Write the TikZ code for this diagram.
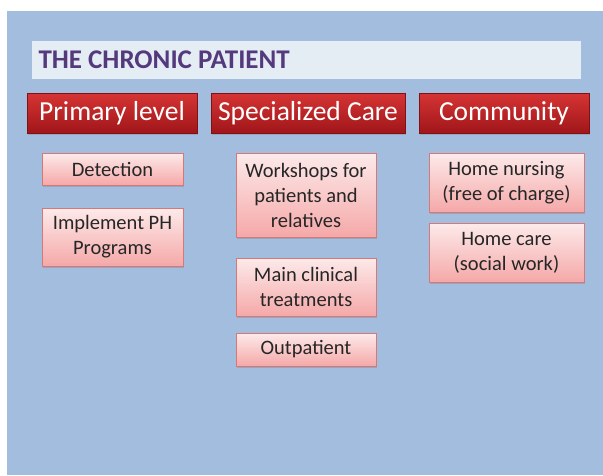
\documentclass[tikz,border=0pt]{standalone}
\usepackage{fontspec}
\setmainfont{Carlito}
\usetikzlibrary{shadows}
\definecolor{slide}{RGB}{163,189,222}
\definecolor{titlebg}{RGB}{228,236,244}
\definecolor{titletext}{RGB}{84,58,125}
\definecolor{headtop}{RGB}{214,52,52}
\definecolor{headbot}{RGB}{160,22,26}
\definecolor{itemtop}{RGB}{253,234,234}
\definecolor{itembot}{RGB}{245,168,168}
\definecolor{itemline}{RGB}{214,120,120}
\tikzset{
  header/.style={top color=headtop, bottom color=headbot, draw=headbot!80!black, line width=.4pt,
    text=white, font=\fontsize{27.5}{30}\selectfont, inner sep=0pt, minimum height=40pt,
    drop shadow={shadow xshift=1pt, shadow yshift=-1.5pt, opacity=.35}},
  item/.style={top color=itemtop, bottom color=itembot, draw=itemline, line width=.5pt,
    text=black!85, font=\fontsize{20.5}{25}\selectfont, align=center, inner sep=0pt,
    drop shadow={shadow xshift=1pt, shadow yshift=-1.5pt, opacity=.35}}
}
\begin{document}
\begin{tikzpicture}[x=1pt, y=-1pt]
		\useasboundingbox (0,0) rectangle (603,475);
		\fill[white] (0,0) rectangle (603,475);
		\fill[slide] (7,11) rectangle (603,475);
		% title bar
		\fill[titlebg] (32,41) rectangle (581,79);
		\node[anchor=west, text=titletext, font=\fontsize{27}{30}\selectfont\bfseries] (title) at (35,60) {THE CHRONIC PATIENT};
		% column headers
		\node[header, minimum width=170pt] (primary) at (112,113) {Primary level};
		\node[header, minimum width=194pt] (special) at (308,113) {Specialized Care};
		\node[header, minimum width=170pt] (community) at (504,113) {Community};
		% primary level
		\node[item, minimum width=141pt, minimum height=32pt] (detect) at (112.5,169) {Detection};
		\node[item, minimum width=141pt, minimum height=58pt] (implement) at (112.5,237) {Implement PH\\Programs};
		% specialized care
		\node[item, minimum width=140pt, minimum height=84pt] (workshop) at (306,195) {Workshops for\\patients and\\relatives};
		\node[item, minimum width=140pt, minimum height=58pt] (clinical) at (306,287) {Main clinical\\treatments};
		\node[item, minimum width=140pt, minimum height=33pt] (outpatient) at (306,349.5) {Outpatient};
		% community
		\node[item, minimum width=155pt, minimum height=59pt] (nursing) at (506.5,182.5) {Home nursing\\(free of charge)};
		\node[item, minimum width=155pt, minimum height=59pt] (homecare) at (506.5,252.5) {Home care\\(social work)};
	\end{tikzpicture}
\end{document}
